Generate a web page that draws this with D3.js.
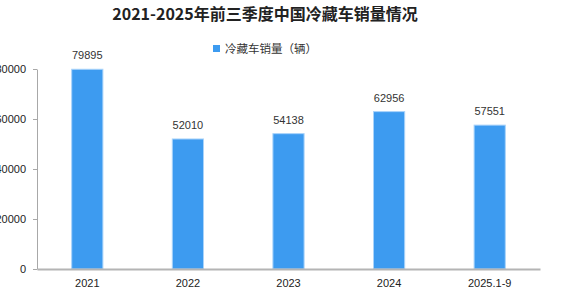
<!DOCTYPE html>
<html>
<head>
<meta charset="utf-8">
<script src="https://cdn.jsdelivr.net/npm/d3@7"></script>
<style>
  body { margin: 0; background: #fff; }
  svg { display: block; }
</style>
</head>
<body>
<div id="chart"></div>
<script>
// data
const years = ['2021', '2022', '2023', '2024', '2025.1-9'];
const sales = [79895, 52010, 54138, 62956, 57551];
const yTicks = [0, 20000, 40000, 60000, 80000];

const W = 568, H = 295;
const margin = {top: 69, right: 28, bottom: 25, left: 37};
const barColor = '#3d9bf0';
const axisColor = '#a8a8a8';
const cjk = '"Noto Sans CJK SC", "Noto Sans", sans-serif';

const svg = d3.select('#chart').append('svg')
	.attr('width', W).attr('height', H);

const x = d3.scaleBand()
	.domain(years)
	.range([margin.left, W - margin.right])
	.paddingInner(0.69).paddingOuter(0.345);

const y = d3.scaleLinear()
	.domain([0, 80000])
	.range([H - margin.bottom - 1, margin.top]);

// title
svg.append('text')
	.attr('x', 265).attr('y', 20)
	.attr('text-anchor', 'middle')
	.attr('font-family', cjk).attr('font-weight', 'bold')
	.attr('font-size', '16px').attr('fill', '#222')
	.text('2021-2025年前三季度中国冷藏车销量情况');

// legend
const legend = svg.append('g').attr('transform', 'translate(213,45)');
legend.append('rect').attr('width', 7).attr('height', 7).attr('fill', barColor);
legend.append('text')
	.attr('x', 12).attr('y', 8)
	.attr('font-family', cjk).attr('font-size', '11.5px').attr('fill', '#333')
	.text('冷藏车销量（辆）');

// y axis (labels run off the left edge, as in the original)
const yAxis = svg.append('g')
	.attr('transform', `translate(${margin.left},0)`)
	.call(d3.axisLeft(y).tickValues(yTicks).tickFormat(d3.format('d'))
		.tickSize(4).tickSizeOuter(0).tickPadding(7));
yAxis.select('.domain').attr('stroke', axisColor);
yAxis.selectAll('.tick line').attr('stroke', axisColor);
yAxis.selectAll('.tick text')
	.attr('font-family', 'Arial, "Liberation Sans", sans-serif')
	.attr('font-size', '11px').attr('fill', '#222');

// bars
svg.append('g').selectAll('rect')
	.data(sales)
	.join('rect')
	.attr('x', (d, i) => x(years[i]))
	.attr('y', d => y(d))
	.attr('width', x.bandwidth())
	.attr('height', d => y(0) - y(d))
	.attr('fill', barColor)
	.attr('stroke', '#a9d3fa').attr('stroke-width', 1);

// value labels
svg.append('g').selectAll('text')
	.data(sales)
	.join('text')
	.attr('x', (d, i) => x(years[i]) + x.bandwidth() / 2)
	.attr('y', d => y(d) - 10)
	.attr('text-anchor', 'middle')
	.attr('font-family', 'Arial, "Liberation Sans", sans-serif')
	.attr('font-size', '11px').attr('fill', '#333')
	.text(d => d);

// x axis
const xAxis = svg.append('g')
	.attr('transform', `translate(0,${y(0)})`)
	.call(d3.axisBottom(x).tickSize(0).tickPadding(10));
xAxis.select('.domain').attr('stroke', '#b4b4b4').attr('stroke-width', 2);
xAxis.selectAll('.tick text')
	.attr('font-family', 'Arial, "Liberation Sans", sans-serif')
	.attr('font-size', '11px').attr('fill', '#222');
</script>
</body>
</html>
